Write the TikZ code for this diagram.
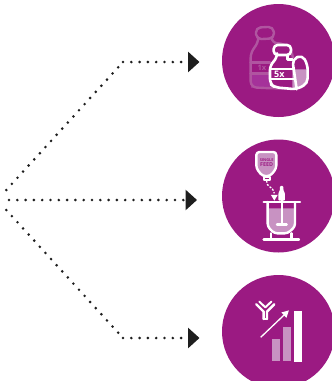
\documentclass[tikz,border=0pt]{standalone}
\usepackage{fontspec}
\setmainfont{Open Sans}
\usetikzlibrary{arrows.meta}
\definecolor{plum}{HTML}{9B1A82}
\definecolor{plumlight}{HTML}{C892C2}
\definecolor{plumfaint}{HTML}{B055A0}
\definecolor{plummid}{HTML}{A5329A}
\definecolor{inkdark}{HTML}{1E1E1E}
\tikzset{
  dotline/.style={line width=2.9pt,line cap=round,dash pattern=on 0pt off 8.3pt,draw=inkdark},
  tipline/.style={dotline,-{Triangle[length=11.5pt,width=20pt,sep=0pt]}},
  disc/.style={circle,fill=plum,inner sep=0pt,minimum size=113pt},
  wline/.style={draw=white,line width=2.4pt,line join=round,line cap=round},
  fline/.style={draw=plumfaint,line width=2.4pt,line join=round,line cap=round}
}
\begin{document}
\begin{tikzpicture}[x=1pt,y=-1pt]
\useasboundingbox (0,0) rectangle (332,381);
\node[disc] (d1) at (278.5,60.5) {};
\node[disc] (d2) at (278.5,196) {};
\node[disc] (d3) at (278.5,331.5) {};
\coordinate (u0) at (6.3,190);
\coordinate (u1) at (123,62);
\coordinate (u2) at (199.5,62);
\coordinate (m0) at (9,200);
\coordinate (m2) at (197,200);
\coordinate (l0) at (6.3,210);
\coordinate (l1) at (123,338);
\coordinate (l2) at (199.5,338);
\draw[dotline] (u0) -- (u1);
\draw[dotline] (l0) -- (l1);
\draw[tipline] (u1) -- (u2);
\draw[tipline] (m0) -- (m2);
\draw[tipline] (l1) -- (l2);
% bottles, coordinates of the 3x crop
\begin{scope}[shift={(215,0)},x=0.3333pt,y=-0.3333pt]
\fill[plummid] (107,218) -- (230,218) -- (230,265) -- (107,265) -- cycle;
\draw[fline,rounded corners=5pt] (122,83) -- (175,80) -- (178,115) -- (124,118) -- cycle;
\draw[fline,rounded corners=6pt] (130,118) -- (130,130) -- (107,155) -- (107,262) -- (170,265) -- (228,265) -- (235,160) -- (208,130) -- (170,130) -- (170,118);
\draw[fline] (107,188) -- (165,188);
\draw[fline] (107,220) -- (165,220);
\node[text=plumfaint,font=\bfseries\fontsize{7.5pt}{7.5pt}\selectfont] (t1) at (141,204) {1x};
\fill[plum,rounded corners=5pt] (186,165) -- (186,175) -- (165,195) -- (165,252) -- (180,262) -- (245,268) -- (278,250) -- (278,195) -- (262,165) -- (232,178) -- (218,178) -- (218,165) -- cycle;
\fill[plumlight] (232,208) -- (278,208) -- (278,250) -- (245,268) -- (232,262) -- cycle;
\draw[wline,line width=2.6pt,fill=plum,rounded corners=4pt] (176,135) rectangle (228,165);
\draw[wline,line width=2.6pt,rounded corners=5pt] (186,165) -- (186,175) -- (165,195) -- (165,252) -- (180,262) -- (245,268) -- (278,250) -- (278,195) -- (262,165) -- (232,178) -- (245,268);
\draw[wline,line width=2.6pt] (218,165) -- (218,178) -- (232,178);
\draw[wline,line width=1.8pt] (165,207) -- (235,207) (165,238) -- (238,238);
\node[text=white,inner sep=0pt,font=\bfseries\fontsize{9pt}{9pt}\selectfont] (t5) at (193,222) {5x};
\end{scope}
% feed bag and vessel, coordinates of the 3x crop
\begin{scope}[shift={(215,130)},x=0.3333pt,y=-0.3333pt]
\draw[wline,fill=plumlight,rounded corners=3pt] (124,66) -- (184,66) -- (184,115) -- (166,138) -- (142,138) -- (124,115) -- cycle;
\node[text=plum,align=center,inner sep=0pt,font=\bfseries\fontsize{3.9pt}{5.2pt}\selectfont] (t2) at (155,97) {SINGLE\\\fontsize{5.4pt}{5.2pt}\selectfont FEED};
\draw[wline,line width=1.8pt] (146,140) rectangle (164,150);
\draw[white,line width=1.3pt,dash pattern=on 2pt off 1.5pt] (155,152) .. controls (155,175) and (172,165) .. (178,190);
\fill[white] (168,195) -- (188,195) -- (178,212) -- cycle;
\fill[plumlight] (160,235) -- (237,235) -- (237,290) -- (218,308) -- (178,308) -- (160,290) -- cycle;
\draw[wline] (146,216) -- (255,216);
\draw[wline,rounded corners=3pt] (158,216) -- (158,290) -- (178,310) -- (218,310) -- (240,290) -- (240,216);
\draw[wline] (168,310) -- (168,328) (230,310) -- (230,328);
\draw[wline] (146,328) -- (252,328);
\fill[white,rounded corners=1pt] (190,212) -- (190,190) -- (195,180) -- (195,168) -- (205,168) -- (205,180) -- (210,190) -- (210,212) -- cycle;
\draw[wline,line width=2pt] (200,212) -- (200,283);
\draw[wline] (186,283) -- (215,283);
\end{scope}
% antibody and bars, coordinates of the 3x crop
\begin{scope}[shift={(215,265)},x=0.3333pt,y=-0.3333pt]
\fill[plumlight] (171,222) rectangle (195,288);
\fill[plumlight] (204,186) rectangle (228,288);
\fill[white] (237,138) rectangle (261,291);
\coordinate (a0) at (137,217);
\coordinate (a1) at (222,136);
\draw[white,line width=1.3pt,-{Triangle[length=7pt,width=7pt,sep=0pt]}] (a0) -- (a1);
\draw[wline] (146,162) -- (146,140) -- (124,118);
\draw[wline] (156,162) -- (156,140) -- (178,118);
\draw[wline] (146,162) -- (156,162);
\draw[wline,line width=2pt] (133,110) -- (151,127) -- (169,110);
\end{scope}
\end{tikzpicture}
\end{document}
